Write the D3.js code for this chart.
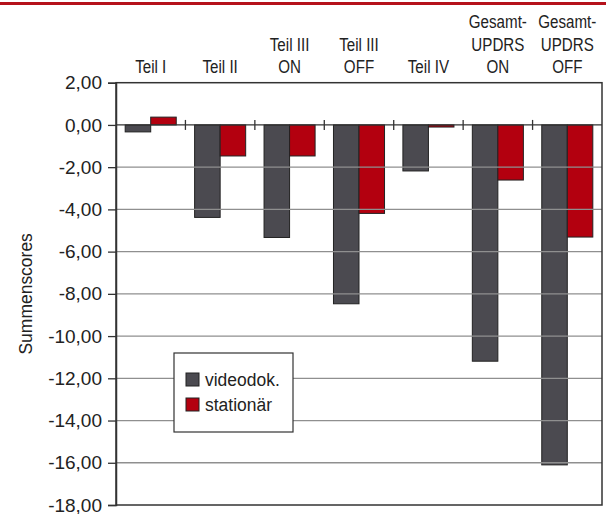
<!DOCTYPE html>
<html><head><meta charset="utf-8">
<script src="https://cdn.jsdelivr.net/npm/d3@7"></script>
<style>
html,body{margin:0;padding:0;background:#fff;}
svg{display:block;}
svg text{font-family:"Liberation Sans",Arial,sans-serif;}
</style></head>
<body>
<svg id="chart" width="606" height="514"></svg>
<script>
const categories = [["Teil I"],["Teil II"],["Teil III","ON"],["Teil III","OFF"],["Teil IV"],["Gesamt-","UPDRS","ON"],["Gesamt-","UPDRS","OFF"]];
const seriesNames = ["videodok.","stationär"];
const videodok = [-0.33,-4.38,-5.33,-8.47,-2.18,-11.19,-16.1];
const stationaer = [0.37,-1.47,-1.47,-4.19,-0.1,-2.61,-5.31];
const yTicks = [2,0,-2,-4,-6,-8,-10,-12,-14,-16,-18];
const yTitle = "Summenscores";
const colors = ["#4b4a50","#b3000f"];

const svg = d3.select("#chart");
const pL = 116, pR = 602, pT = 82.7, pB = 505;
const catKeys = categories.map((c,i)=>i);
const x = d3.scaleBand().domain(catKeys).range([pL,pR]).paddingInner(0).paddingOuter(0);
const x1 = d3.scaleBand().domain(seriesNames).range([0,x.bandwidth()]).paddingInner(0).paddingOuter(0.36);
const y = d3.scaleLinear().domain([-18,2]).range([pB,pT]);
const loc = d3.formatLocale({decimal:",",thousands:".",grouping:[3],currency:["","€"],minus:"-"});
const fmt = loc.format(".2f");

// top red rule
svg.append("rect").attr("x",0).attr("y",2).attr("width",606).attr("height",3).attr("fill","#b5121b");

const series = [videodok, stationaer];
const bars = svg.append("g");
catKeys.forEach(i=>{
  series.forEach((s,j)=>{
    const v = s[i];
    bars.append("rect")
      .attr("x", x(i)+x1(seriesNames[j]))
      .attr("y", y(Math.max(0,v)))
      .attr("width", x1.bandwidth())
      .attr("height", Math.abs(y(v)-y(0)))
      .attr("fill", colors[j])
      .attr("stroke","#222").attr("stroke-width",1);
  });
});

// gridlines (drawn over bars)
const grid = svg.append("g");
yTicks.filter(t=>t!==2 && t!==-18 && t!==0).forEach(t=>{
  grid.append("line").attr("x1",pL).attr("x2",pR)
    .attr("y1",y(t)).attr("y2",y(t)).attr("stroke","#8f8f8f").attr("stroke-width",1.3);
});

// zero line with category ticks
svg.append("line").attr("x1",pL).attr("x2",pR).attr("y1",y(0)).attr("y2",y(0))
  .attr("stroke","#333").attr("stroke-width",1.3);
catKeys.slice(1).forEach(i=>{
  svg.append("line").attr("x1",x(i)).attr("x2",x(i)).attr("y1",y(0)-5).attr("y2",y(0)+5)
    .attr("stroke","#333").attr("stroke-width",1.3);
});

// frame
svg.append("rect").attr("x",pL).attr("y",pT).attr("width",pR-pL).attr("height",pB-pT)
  .attr("fill","none").attr("stroke","#333").attr("stroke-width",1.5);

// y axis
const yAxis = d3.axisLeft(y).tickValues(yTicks).tickFormat(fmt).tickSize(8).tickPadding(6);
const ya = svg.append("g").attr("transform",`translate(${pL},0)`).call(yAxis);
ya.attr("font-family",null).attr("font-size",null);
ya.select(".domain").attr("stroke","#333").attr("stroke-width",1.5);
ya.selectAll(".tick line").attr("stroke","#333").attr("stroke-width",1.3);
ya.selectAll(".tick text").attr("font-size",19).attr("fill","#222");

// category labels (condensed)
const lineH = 22.5;
catKeys.forEach(i=>{
  const lines = categories[i];
  const cx = x(i)+x.bandwidth()/2;
  lines.forEach((t,k)=>{
    svg.append("text")
      .attr("transform",`translate(${cx},${73.3-(lines.length-1-k)*lineH}) scale(0.82,1)`)
      .attr("text-anchor","middle").attr("font-size",18.5).attr("fill","#222").text(t);
  });
});

// y title
svg.append("text").attr("transform",`translate(32,${(pT+pB)/2}) rotate(-90) scale(0.92,1)`)
  .attr("text-anchor","middle").attr("font-size",19).attr("fill","#222").text(yTitle);

// legend
const lg = svg.append("g");
lg.append("rect").attr("x",174).attr("y",353).attr("width",119).attr("height",79)
  .attr("fill","#fff").attr("stroke","#333").attr("stroke-width",1.2);
seriesNames.forEach((n,j)=>{
  lg.append("rect").attr("x",186).attr("y",373+j*25).attr("width",13).attr("height",13)
    .attr("fill",colors[j]).attr("stroke","#222").attr("stroke-width",1);
  lg.append("text").attr("transform",`translate(205,${386+j*25}) scale(0.92,1)`)
    .attr("font-size",19).attr("fill","#222").text(n);
});
</script>
</body></html>
